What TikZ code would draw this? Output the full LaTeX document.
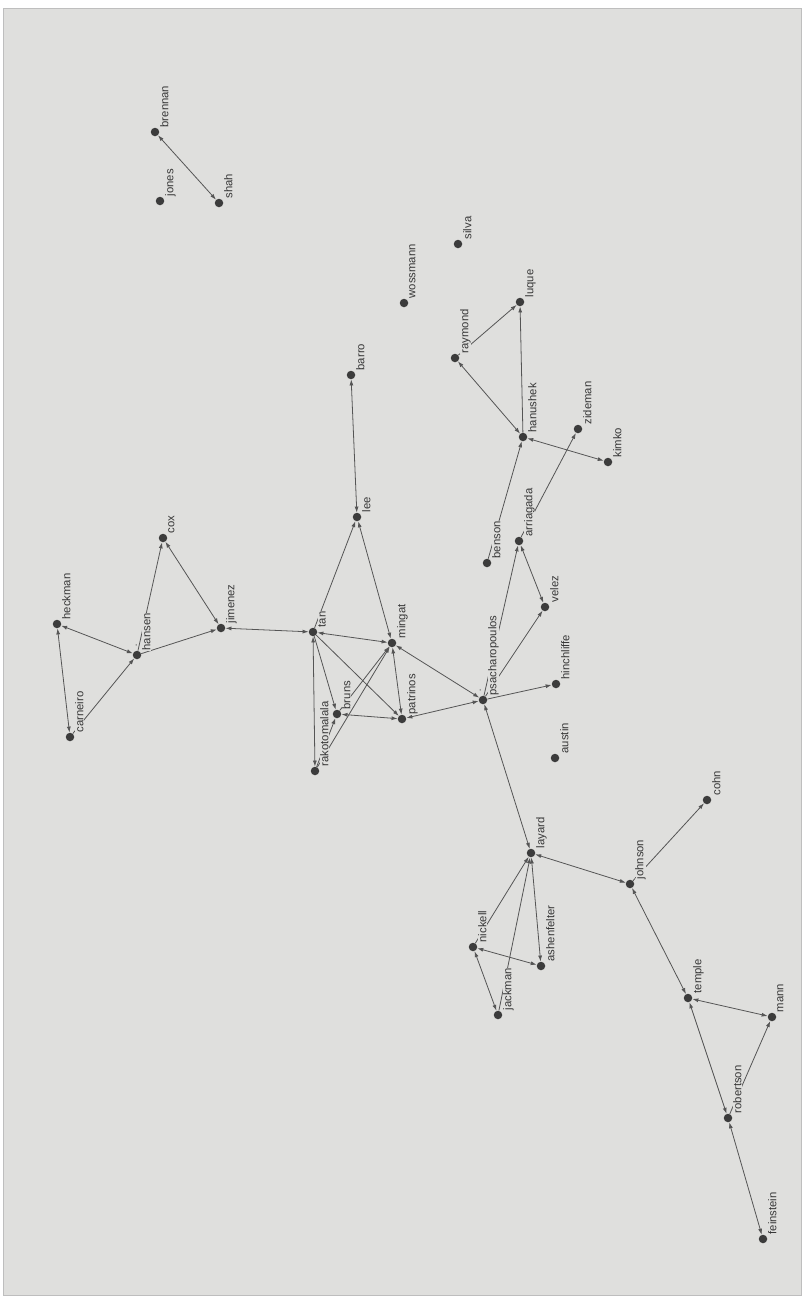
\documentclass[tikz,border=0pt]{standalone}
\usepackage{fontspec}
\setmainfont{Liberation Sans}
\usetikzlibrary{arrows.meta}
\definecolor{bgc}{RGB}{223,223,221}
\definecolor{framec}{RGB}{190,190,190}
\definecolor{dotc}{RGB}{60,60,60}
\definecolor{edgec}{RGB}{85,85,85}
\definecolor{txtc}{RGB}{55,55,55}
\tikzset{
  dot/.style={circle,fill=dotc,draw=none,minimum size=8.5pt,inner sep=0pt},
  lab/.style={rotate=90,anchor=north west,inner sep=0.5pt,fill=bgc,text=txtc,font=\fontsize{11.3}{12}\selectfont},
  tick/.style={rotate=90,inner sep=0pt,text=txtc,font=\fontsize{7}{8}\selectfont},
  edge/.style={draw=edgec,line width=0.8pt},
  >={Latex[length=6pt,width=4pt]}
}
\begin{document}
\begin{tikzpicture}[x=1pt,y=-1pt]
\useasboundingbox (0,0) rectangle (805,1299);
\fill[white] (0,0) rectangle (805,1299);
\filldraw[fill=bgc,draw=framec,line width=1pt] (3.5,8.5) rectangle (801.5,1295.5);
% nodes
\foreach \n/\x/\y in {
 brennan/155/132, shah/219/203, jones/160/201, wossmann/404/303, silva/458/244,
 barro/351/375, raymond/455/358, luque/520/302, hanushek/523/437, zideman/578/429,
 kimko/608/462, benson/487/563, arriagada/519/541, velez/545/607, heckman/57/624,
 carneiro/70/737, hansen/137/655, cox/163/538, jimenez/221/628, lee/357/517,
 tan/313/632, mingat/392/643, rakotomalala/315/771, bruns/337/714, patrinos/402/719,
 psacharopoulos/483/700, hinchliffe/556/684, austin/555/758, layard/531/853,
 johnson/630/884, cohn/707/800, nickell/473/947, ashenfelter/541/966,
 jackman/498/1015, temple/688/998, mann/772/1017, robertson/728/1118,
 feinstein/763/1239}
 \node[dot] (\n) at (\x,\y) {};
% edges
\draw[edge,<->] (brennan) -- (shah);
\draw[edge,->] (raymond) -- (luque);
\draw[edge,->] (hanushek) -- (luque);
\draw[edge,<->] (hanushek) -- (raymond);
\draw[edge,<->] (hanushek) -- (kimko);
\draw[edge,->] (benson) -- (hanushek);
\draw[edge,->] (arriagada) -- (zideman);
\draw[edge,->] (psacharopoulos) -- (arriagada);
\draw[edge,<->] (arriagada) -- (velez);
\draw[edge,->] (psacharopoulos) -- (velez);
\draw[edge,->] (psacharopoulos) -- (hinchliffe);
\draw[edge,<->] (mingat) -- (psacharopoulos);
\draw[edge,<->] (patrinos) -- (psacharopoulos);
\draw[edge,<->] (psacharopoulos) -- (layard);
\draw[edge,<->] (layard) -- (johnson);
\draw[edge,->] (johnson) -- (cohn);
\draw[edge,<->] (johnson) -- (temple);
\draw[edge,<->] (temple) -- (mann);
\draw[edge,->] (robertson) -- (mann);
\draw[edge,<->] (temple) -- (robertson);
\draw[edge,<->] (robertson) -- (feinstein);
\draw[edge,->] (nickell) -- (layard);
\draw[edge,->] (jackman) -- (layard);
\draw[edge,<->] (layard) -- (ashenfelter);
\draw[edge,<->] (nickell) -- (ashenfelter);
\draw[edge,<->] (nickell) -- (jackman);
\draw[edge,<->] (jimenez) -- (tan);
\draw[edge,->] (hansen) -- (jimenez);
\draw[edge,->] (hansen) -- (cox);
\draw[edge,<->] (cox) -- (jimenez);
\draw[edge,<->] (hansen) -- (heckman);
\draw[edge,->] (carneiro) -- (hansen);
\draw[edge,<->] (carneiro) -- (heckman);
\draw[edge,<->] (lee) -- (barro);
\draw[edge,->] (tan) -- (lee);
\draw[edge,<->] (lee) -- (mingat);
\draw[edge,<->] (tan) -- (mingat);
\draw[edge,->] (tan) -- (patrinos);
\draw[edge,->] (tan) -- (bruns);
\draw[edge,<->] (tan) -- (rakotomalala);
\draw[edge,->] (bruns) -- (mingat);
\draw[edge,->] (rakotomalala) -- (mingat);
\draw[edge,->] (rakotomalala) -- (bruns);
\draw[edge,<->] (bruns) -- (patrinos);
\draw[edge,<->] (mingat) -- (patrinos);
% labels
\foreach \n in {brennan, shah, jones, wossmann, silva, barro, raymond, luque,
 hanushek, zideman, kimko, benson, arriagada, velez, heckman, carneiro, hansen,
 cox, jimenez, lee, tan, mingat, rakotomalala, bruns, patrinos, psacharopoulos,
 hinchliffe, austin, layard, johnson, cohn, nickell, ashenfelter, jackman,
 temple, mann, robertson, feinstein}
 \node[lab] (\n-lab) at ([xshift=4.5pt,yshift=4pt]\n.center) {\n};
\node[tick] (hansen-tick) at ([xshift=0pt,yshift=10pt]hansen.center) {-};
\node[tick] (psach-tick) at ([xshift=-2pt,yshift=10pt]psacharopoulos.center) {-};
\end{tikzpicture}
\end{document}
